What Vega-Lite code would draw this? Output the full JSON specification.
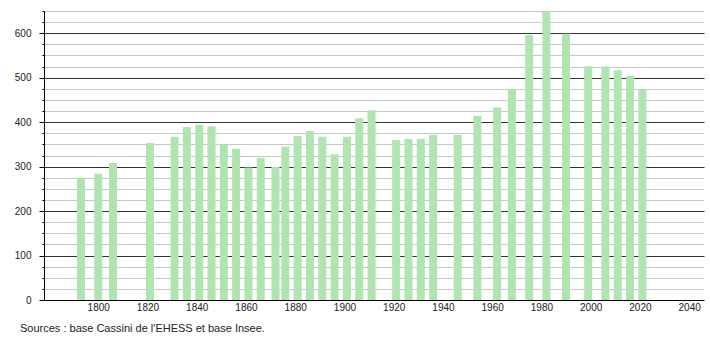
{
  "$schema": "https://vega.github.io/schema/vega-lite/v6.json",
  "width": 660,
  "height": 289,
  "autosize": {"type": "none"},
  "padding": {"left": 44, "top": 11, "right": 6, "bottom": 40},
  "background": "white",
  "title": {
    "text": "Sources : base Cassini de l'EHESS et base Insee.",
    "orient": "bottom",
    "anchor": "start",
    "frame": "group",
    "dx": -24,
    "offset": 11,
    "fontSize": 11,
    "font": "Liberation Sans",
    "fontWeight": "normal",
    "color": "#222"
  },
  "config": {
    "view": {"stroke": null},
    "axis": {"labelFont": "Liberation Sans", "labelFontSize": 10, "labelColor": "#222"}
  },
  "data": {
    "values": [
      {"year": 1793, "pop": 274},
      {"year": 1800, "pop": 284},
      {"year": 1806, "pop": 308},
      {"year": 1821, "pop": 353},
      {"year": 1831, "pop": 367},
      {"year": 1836, "pop": 389},
      {"year": 1841, "pop": 394},
      {"year": 1846, "pop": 391},
      {"year": 1851, "pop": 350},
      {"year": 1856, "pop": 340},
      {"year": 1861, "pop": 298},
      {"year": 1866, "pop": 320},
      {"year": 1872, "pop": 299},
      {"year": 1876, "pop": 345},
      {"year": 1881, "pop": 369},
      {"year": 1886, "pop": 380},
      {"year": 1891, "pop": 367},
      {"year": 1896, "pop": 328},
      {"year": 1901, "pop": 367},
      {"year": 1906, "pop": 409},
      {"year": 1911, "pop": 427},
      {"year": 1921, "pop": 360},
      {"year": 1926, "pop": 362},
      {"year": 1931, "pop": 362},
      {"year": 1936, "pop": 371},
      {"year": 1946, "pop": 371},
      {"year": 1954, "pop": 414},
      {"year": 1962, "pop": 433},
      {"year": 1968, "pop": 473},
      {"year": 1975, "pop": 596},
      {"year": 1982, "pop": 650},
      {"year": 1990, "pop": 599},
      {"year": 1999, "pop": 526},
      {"year": 2006, "pop": 525},
      {"year": 2011, "pop": 517},
      {"year": 2016, "pop": 504},
      {"year": 2021, "pop": 473}
    ]
  },
  "mark": {"type": "bar", "size": 8, "color": "#b0e4b0", "clip": true},
  "encoding": {
    "x": {
      "field": "year",
      "type": "quantitative",
      "scale": {"domain": [1780, 2044], "nice": false, "zero": false},
      "axis": {
        "title": null,
        "values": [1800, 1820, 1840, 1860, 1880, 1900, 1920, 1940, 1960, 1980, 2000, 2020, 2040],
        "format": "d",
        "grid": false,
        "ticks": false,
        "labelPadding": 2,
        "domainColor": "#000",
        "labelFlush": false,
        "labelOverlap": false
      }
    },
    "y": {
      "field": "pop",
      "type": "quantitative",
      "scale": {"domain": [0, 650], "nice": false},
      "axis": {
        "title": null,
        "values": [0, 25, 50, 75, 100, 125, 150, 175, 200, 225, 250, 275, 300, 325, 350, 375, 400, 425, 450, 475, 500, 525, 550, 575, 600, 625, 650],
        "labelExpr": "datum.value % 100 === 0 ? datum.label : ''",
        "grid": true,
        "gridColor": {"condition": {"test": "datum.value % 100 === 0 && datum.value > 0", "value": "#333"}, "value": "#c8c8c8"},
        "gridWidth": 1,
        "gridOpacity": 1,
        "tickSize": {"condition": {"test": "datum.value % 100 === 0", "value": 5}, "value": 2},
        "tickColor": "#000",
        "domainColor": "#000",
        "labelPadding": 8,
        "labelFlush": false,
        "labelOverlap": false
      }
    }
  }
}
